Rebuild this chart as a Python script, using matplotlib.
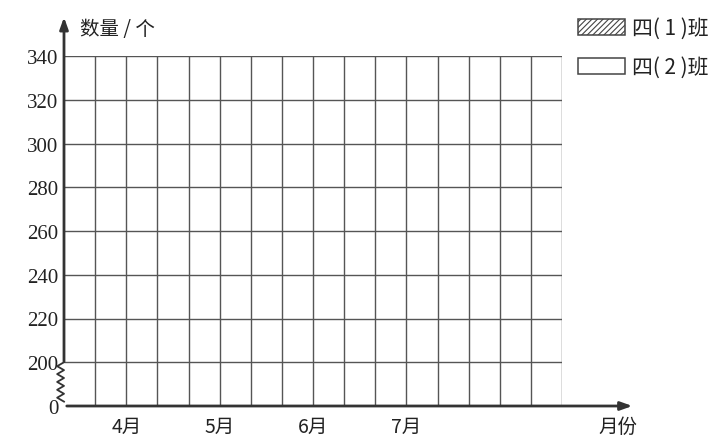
import matplotlib.pyplot as plt
from matplotlib.patches import Rectangle

plt.rcParams['font.family'] = ['Noto Sans CJK SC', 'DejaVu Sans']
plt.rcParams['hatch.color'] = "#888888"
plt.rcParams['hatch.linewidth'] = 0.8

# empty worksheet chart: grid with broken y axis (0, then 200..340)
y_tick_labels = ["0", "200", "220", "240", "260", "280", "300", "320", "340"]
months = ["4月", "5月", "6月", "7月"]
month_slots = [2, 5, 8, 11]        # grid line under each month label
n_columns = 16
legend_labels = ["四( 1 )班", "四( 2 )班"]

line_col = "#555555"
axis_col = "#333333"

fig = plt.figure(figsize=(7.08, 4.39), dpi=100)
ax = fig.add_axes([64 / 708, 1 - 407 / 439, 498 / 708, 350 / 439])
ax.set_xlim(0, n_columns)
ax.set_ylim(0, len(y_tick_labels) - 1)
for s in ax.spines.values():
    s.set_visible(False)

# grid
for i in range(1, n_columns + 1):
    ax.plot([i, i], [0, len(y_tick_labels) - 1], color=line_col, lw=1.0, solid_capstyle='butt')
for j in range(1, len(y_tick_labels)):
    ax.plot([0, n_columns], [j, j], color=line_col, lw=1.0, solid_capstyle='butt')

# axes with arrows
ax.annotate("", xy=(18.35, 0), xytext=(0, 0), annotation_clip=False,
            arrowprops=dict(arrowstyle="-|>,head_length=0.7,head_width=0.25", color=axis_col, lw=2))
ax.annotate("", xy=(0, 8.95), xytext=(0, 0.95), annotation_clip=False,
            arrowprops=dict(arrowstyle="-|>,head_length=0.7,head_width=0.25", color=axis_col, lw=2))

# zigzag axis break between 0 and 200
zx = [0, -0.22, 0, -0.22, 0, -0.22, 0, -0.22, 0, -0.22, 0]
zy = [1 - k * 0.09 for k in range(len(zx))]
ax.plot(zx, zy, color=axis_col, lw=1.3, clip_on=False)

ax.set_yticks(range(len(y_tick_labels)))
ax.set_yticklabels(y_tick_labels, fontsize=15, color="#222222")
for lbl in ax.get_yticklabels():
    lbl.set_fontfamily(['Liberation Serif'])
ax.set_xticks(month_slots)
ax.set_xticklabels(months, fontsize=14, color="#222222")
ax.tick_params(length=0, pad=4)
ax.tick_params(axis='x', pad=7)

fig.text(80 / 708, 1 - 30 / 439, "数量 / 个", fontsize=14, va='center', ha='left', color="#222222")
fig.text(598 / 708, 1 - 427 / 439, "月份", fontsize=14, va='center', ha='left', color="#222222")

# legend boxes
box_y = [20, 59]
for k, lab in enumerate(legend_labels):
    r = Rectangle((578 / 708, 1 - (box_y[k] + 16) / 439), 47 / 708, 16 / 439,
                  transform=fig.transFigure, facecolor="white", edgecolor="#444444",
                  lw=1.1, hatch="//////" if k == 0 else None)
    fig.patches.append(r)
    fig.text(632 / 708, 1 - (box_y[k] + 9) / 439, lab, fontsize=15, va='center', ha='left', color="#222222")

fig.savefig("out.png", dpi=100)
